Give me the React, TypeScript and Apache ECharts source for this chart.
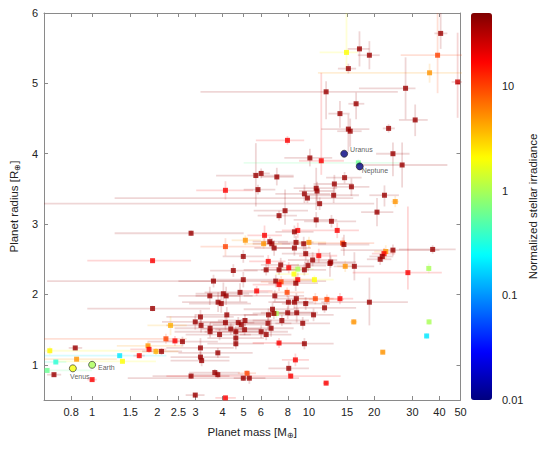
import React, { useEffect, useRef } from 'react';
import * as echarts from 'echarts';

// [mass, massLo, massHi, radius, radiusLo, radiusHi, normalized irradiance]
const exoplanets: number[][] = [
  [12.0, 3.16, 25.7, 4.88, 4.49, 5.03, 40],
  [7.96, 5.69, 9.51, 4.19, 4.13, 4.25, 18],
  [14.9, 11.2, 16.8, 5.44, 5.17, 6.3, 2],
  [36.0, 11.0, 60, 5.15, 5.01, 5.28, 5],
  [17.1, 15.1, 19.0, 5.49, 5.24, 5.74, 40],
  [19.0, 16.8, 21.2, 5.40, 5.20, 5.60, 40],
  [15.2, 13.6, 16.5, 5.21, 5.14, 5.28, 40],
  [40.5, 37.9, 43.5, 5.71, 5.49, 6.0, 40],
  [39.2, 26.5, 55, 5.40, 4.86, 6.0, 10],
  [48.5, 45.5, 51, 5.02, 4.51, 5.72, 28],
  [27.9, 17.0, 31.0, 4.93, 4.49, 5.37, 40],
  [16.5, 15.2, 18.0, 4.71, 4.49, 4.87, 40],
  [13.9, 12.3, 15.4, 4.57, 4.37, 4.75, 40],
  [15.2, 11.4, 19.0, 4.35, 4.03, 4.56, 40],
  [15.5, 13.5, 17.5, 4.32, 4.10, 4.50, 40],
  [23.3, 21.9, 24.9, 4.36, 4.30, 4.42, 40],
  [30.9, 26.0, 35.3, 4.48, 4.25, 4.70, 40],
  [4.12, 3.02, 5.53, 3.48, 3.35, 3.61, 18],
  [5.69, 3.73, 8.5, 3.69, 3.25, 4.15, 40],
  [6.02, 5.5, 6.6, 3.72, 3.65, 3.79, 40],
  [5.82, 5.0, 7.0, 3.49, 3.42, 3.56, 40],
  [10.1, 7.7, 12.8, 3.94, 3.82, 4.07, 40],
  [11.4, 9.0, 14.5, 3.90, 3.70, 5.15, 18],
  [16.9, 5.0, 26.0, 3.87, 3.82, 3.92, 0.6],
  [7.11, 6.0, 8.5, 3.67, 3.55, 3.80, 40],
  [10.8, 8.5, 13.5, 3.51, 3.2, 3.8, 40],
  [10.9, 9.0, 13.0, 3.47, 3.3, 3.6, 40],
  [9.53, 7.0, 12.5, 3.43, 3.3, 3.56, 40],
  [9.84, 1.27, 16, 3.37, 3.30, 3.44, 40],
  [11.2, 0.5, 20, 3.29, 3.2, 3.38, 40],
  [7.76, 5.56, 9.9, 3.19, 2.99, 3.49, 40],
  [7.28, 5.8, 8.8, 3.12, 3.05, 3.19, 40],
  [10.8, 8.5, 13.5, 3.06, 2.95, 3.17, 40],
  [2.86, 1.27, 5.0, 2.87, 2.83, 2.91, 40],
  [8.88, 7.5, 10.5, 2.91, 2.80, 3.02, 18],
  [8.57, 7.0, 10.5, 2.89, 2.80, 2.98, 40],
  [6.24, 5.2, 7.5, 2.84, 2.70, 2.98, 18],
  [5.09, 4.4, 6.0, 2.77, 2.70, 2.84, 5],
  [4.12, 3.16, 6.0, 2.68, 2.55, 2.80, 10],
  [6.18, 5.0, 7.5, 2.72, 2.65, 2.80, 5],
  [6.6, 5.5, 8.0, 2.75, 2.68, 2.82, 40],
  [6.74, 5.5, 8.2, 2.72, 2.65, 2.80, 40],
  [6.91, 5.6, 8.5, 2.66, 2.55, 2.77, 40],
  [8.72, 7.2, 10.5, 2.74, 2.65, 2.83, 40],
  [9.46, 7.5, 12.0, 2.72, 2.62, 2.82, 40],
  [10.0, 8.5, 12.0, 2.74, 2.66, 2.82, 5],
  [8.57, 7.0, 10.2, 2.66, 2.55, 2.77, 40],
  [9.66, 7.5, 12.5, 2.58, 2.48, 2.68, 40],
  [4.98, 4.0, 6.2, 2.54, 2.45, 2.63, 40],
  [10.4, 8.0, 13.5, 2.49, 2.40, 2.60, 40],
  [11.1, 9.0, 13.5, 2.55, 2.45, 2.65, 18],
  [6.49, 5.3, 7.8, 2.47, 2.38, 2.56, 18],
  [7.41, 6.0, 9.0, 2.42, 2.32, 2.52, 40],
  [8.07, 6.5, 9.8, 2.38, 2.30, 2.46, 18],
  [8.88, 7.5, 10.5, 2.36, 2.28, 2.44, 1],
  [9.53, 7.5, 12.0, 2.35, 2.27, 2.43, 40],
  [9.9, 8.0, 12.0, 2.41, 2.33, 2.49, 40],
  [7.28, 6.0, 8.8, 2.35, 2.28, 2.42, 40],
  [6.35, 5.0, 8.0, 2.35, 2.27, 2.43, 40],
  [4.48, 3.5, 5.8, 2.34, 2.25, 2.43, 40],
  [24.4, 20.4, 29.1, 4.00, 3.68, 4.16, 40],
  [26.9, 17.4, 43.5, 3.84, 3.52, 4.16, 40],
  [14.6, 12.0, 17.5, 3.66, 3.58, 3.74, 40],
  [13.1, 10.5, 16.0, 3.57, 3.45, 3.70, 40],
  [15.7, 13.0, 19.0, 3.53, 3.40, 3.65, 40],
  [13.0, 10.0, 17.0, 3.41, 3.30, 3.52, 40],
  [22.3, 19.0, 26.0, 3.41, 3.25, 3.55, 40],
  [25.0, 24.0, 26.0, 3.32, 3.24, 3.40, 5],
  [20.6, 17.4, 24.5, 3.17, 2.97, 3.37, 40],
  [12.7, 9.5, 16.5, 3.04, 2.95, 3.13, 40],
  [13.5, 10.5, 17.0, 2.91, 2.80, 3.02, 18],
  [14.3, 11.0, 20.0, 2.73, 2.65, 2.81, 10],
  [14.5, 11.0, 19.0, 2.71, 2.55, 2.85, 40],
  [22.6, 20.0, 25.0, 2.61, 2.50, 2.70, 5],
  [22.2, 19.5, 25.0, 2.58, 2.50, 2.66, 18],
  [21.8, 19.0, 24.5, 2.54, 2.46, 2.62, 40],
  [21.3, 18.5, 24.0, 2.50, 2.42, 2.58, 40],
  [24.4, 14.0, 40.0, 2.63, 2.55, 2.71, 40],
  [37.2, 26.0, 47.5, 2.64, 2.58, 2.70, 40],
  [35.7, 35.0, 36.5, 2.37, 2.30, 2.44, 1],
  [12.6, 9.5, 16.5, 2.46, 2.38, 2.54, 40],
  [12.5, 9.5, 16.0, 2.44, 2.25, 2.60, 40],
  [14.7, 13.5, 16.0, 2.40, 2.32, 2.48, 5],
  [16.2, 13.0, 20.0, 2.40, 2.20, 2.60, 40],
  [28.6, 15.9, 41.0, 2.31, 2.07, 3.25, 18],
  [3.63, 2.5, 5.0, 2.19, 2.10, 2.28, 40],
  [4.98, 3.5, 7.0, 2.21, 2.10, 2.32, 40],
  [7.03, 0.62, 12.0, 2.19, 2.10, 2.28, 40],
  [7.44, 6.0, 9.0, 2.18, 2.10, 2.26, 10],
  [7.28, 5.5, 9.0, 2.14, 2.05, 2.23, 18],
  [8.88, 7.5, 10.5, 2.21, 2.12, 2.30, 18],
  [8.69, 6.5, 11.0, 2.16, 2.05, 2.27, 40],
  [8.53, 7.0, 10.0, 2.29, 2.20, 2.38, 2],
  [10.6, 8.5, 13.0, 2.21, 2.15, 2.27, 2],
  [5.74, 4.8, 6.8, 2.05, 1.98, 2.12, 18],
  [4.81, 3.3, 6.5, 2.03, 1.90, 2.16, 40],
  [3.49, 2.5, 4.8, 1.98, 1.85, 2.11, 40],
  [4.03, 3.0, 5.3, 2.01, 1.85, 2.17, 40],
  [4.15, 3.0, 5.5, 1.98, 1.85, 2.11, 40],
  [6.96, 5.0, 9.5, 1.98, 1.90, 2.06, 40],
  [7.93, 6.5, 9.5, 2.03, 1.96, 2.10, 10],
  [10.7, 8.5, 13.0, 1.94, 1.86, 2.02, 10],
  [8.04, 6.5, 10.0, 1.89, 1.80, 1.98, 40],
  [8.57, 6.8, 10.5, 1.89, 1.80, 1.98, 40],
  [8.75, 7.0, 11.0, 1.94, 1.86, 2.02, 40],
  [9.66, 7.5, 12.5, 1.87, 1.78, 1.96, 40],
  [3.81, 2.6, 5.2, 1.89, 1.75, 2.03, 40],
  [3.94, 2.8, 5.4, 1.87, 1.74, 2.00, 40],
  [6.79, 5.0, 9.0, 1.79, 1.70, 1.88, 40],
  [7.98, 6.0, 10.5, 1.74, 1.65, 1.83, 40],
  [8.78, 7.0, 11.0, 1.74, 1.60, 1.88, 40],
  [6.51, 5.0, 8.5, 1.71, 1.62, 1.80, 40],
  [7.07, 6.5, 7.6, 1.73, 1.66, 1.80, 1],
  [6.89, 5.5, 8.5, 1.73, 1.65, 1.81, 40],
  [4.18, 3.0, 5.8, 1.71, 1.60, 1.82, 40],
  [7.50, 5.5, 10.0, 1.63, 1.55, 1.71, 40],
  [9.36, 7.0, 12.5, 1.59, 1.50, 1.68, 40],
  [3.16, 2.2, 4.5, 1.68, 1.58, 1.78, 40],
  [2.99, 2.1, 4.2, 1.61, 1.50, 1.72, 40],
  [3.18, 2.2, 4.5, 1.56, 1.46, 1.66, 40],
  [4.12, 3.0, 5.6, 1.60, 1.50, 1.70, 40],
  [4.72, 3.5, 6.3, 1.60, 1.52, 1.68, 40],
  [4.88, 3.6, 6.5, 1.57, 1.49, 1.65, 40],
  [5.07, 3.8, 6.7, 1.63, 1.55, 1.71, 40],
  [6.47, 5.0, 8.3, 1.59, 1.50, 1.68, 40],
  [6.69, 5.2, 8.5, 1.52, 1.40, 1.64, 40],
  [3.50, 2.4, 5.0, 1.52, 1.44, 1.60, 40],
  [3.50, 2.4, 5.0, 1.47, 1.39, 1.55, 40],
  [3.87, 2.7, 5.4, 1.43, 1.35, 1.51, 40],
  [4.36, 3.2, 6.0, 1.51, 1.43, 1.59, 40],
  [4.60, 3.3, 6.3, 1.47, 1.39, 1.55, 40],
  [5.05, 3.7, 6.8, 1.50, 1.42, 1.58, 40],
  [4.60, 3.4, 6.2, 1.38, 1.25, 1.51, 40],
  [4.60, 3.4, 6.2, 1.30, 1.22, 1.38, 40],
  [6.02, 4.5, 8.0, 1.47, 1.38, 1.56, 40],
  [6.35, 4.8, 8.3, 1.43, 1.35, 1.51, 40],
  [2.61, 1.8, 3.8, 1.33, 1.26, 1.40, 40],
  [7.28, 5.5, 9.5, 1.31, 1.24, 1.38, 18],
  [9.53, 7.0, 13.0, 1.30, 1.22, 1.38, 40],
  [3.16, 2.2, 4.5, 1.24, 1.10, 1.38, 40],
  [3.80, 2.5, 5.5, 1.17, 1.10, 1.24, 40],
  [3.16, 2.3, 4.3, 1.11, 1.03, 1.19, 40],
  [3.20, 2.3, 4.3, 1.06, 0.98, 1.14, 40],
  [8.66, 7.5, 10.0, 1.07, 0.98, 1.16, 18],
  [8.07, 6.5, 10.0, 0.95, 0.85, 1.05, 40],
  [8.24, 2.2, 14.0, 0.84, 0.80, 0.88, 18],
  [3.68, 2.8, 4.8, 0.89, 0.84, 0.94, 40],
  [3.80, 2.9, 5.0, 0.86, 0.81, 0.91, 40],
  [2.86, 1.9, 4.3, 0.84, 0.80, 0.88, 40],
  [5.18, 4.7, 5.7, 0.88, 0.84, 0.92, 10],
  [4.98, 1.46, 9.0, 0.81, 0.77, 0.85, 40],
  [5.31, 4.5, 6.3, 0.81, 0.73, 0.89, 40],
  [2.99, 2.7, 3.3, 0.57, 0.54, 0.60, 40],
  [4.12, 3.7, 4.6, 0.53, 0.50, 0.56, 18],
  [12.1, 10.0, 14.5, 1.93, 1.86, 2.00, 10],
  [13.9, 12.0, 16.0, 1.94, 1.86, 2.02, 18],
  [19.0, 11.4, 28.6, 1.89, 1.56, 2.24, 40],
  [11.8, 8.5, 16.5, 1.81, 1.74, 1.88, 40],
  [16.1, 15.5, 16.7, 1.61, 1.57, 1.65, 5],
  [35.8, 35.2, 36.4, 1.61, 1.57, 1.65, 1],
  [34.9, 34.3, 35.5, 1.41, 1.37, 1.45, 0.2],
  [21.9, 21.3, 22.5, 1.18, 1.15, 1.21, 5],
  [12.0, 11.6, 12.4, 0.74, 0.71, 0.77, 18],
  [10.5, 8.0, 13.0, 1.71, 1.62, 1.80, 40],
  [1.90, 0.95, 3.5, 1.80, 1.76, 1.84, 40],
  [1.90, 0.95, 2.86, 2.48, 2.45, 2.51, 18],
  [2.30, 1.8, 2.73, 1.56, 1.42, 1.69, 4],
  [2.19, 0.55, 2.73, 1.37, 1.30, 1.44, 10],
  [2.41, 2.2, 2.65, 1.34, 1.27, 1.41, 18],
  [1.81, 1.3, 2.6, 1.27, 1.22, 1.32, 5],
  [1.83, 1.5, 2.2, 1.22, 1.17, 1.27, 18],
  [1.97, 1.5, 2.5, 1.19, 1.14, 1.24, 4],
  [2.09, 1.7, 2.6, 1.19, 1.14, 1.24, 40],
  [1.34, 0.55, 2.2, 1.13, 1.10, 1.16, 0.2],
  [1.65, 1.55, 1.75, 1.13, 1.09, 1.17, 18],
  [1.38, 0.69, 1.97, 1.05, 1.02, 1.08, 2],
  [0.638, 0.55, 1.5, 1.20, 1.14, 1.26, 2.2],
  [0.836, 0.78, 0.9, 1.24, 1.21, 1.27, 40],
  [0.848, 0.6, 1.3, 1.08, 1.05, 1.11, 5],
  [0.68, 0.6, 0.76, 1.04, 1.01, 1.07, 0.35],
  [0.62, 0.55, 1.0, 0.92, 0.89, 0.95, 0.6],
  [0.667, 0.62, 0.72, 0.86, 0.83, 0.89, 40],
  [1.0, 0.95, 1.05, 0.79, 0.77, 0.81, 18],
];

// [name, mass, radius, irradiance]
const solarSystem: [string, number, number, number][] = [
  ['Venus', 0.815, 0.95, 1.91],
  ['Earth', 1.0, 1.0, 1.0],
  ['Uranus', 14.54, 4.0, 0.0027],
  ['Neptune', 17.15, 3.82, 0.0011],
];

const massTicks = [0.8, 1, 1.5, 2, 2.5, 3, 4, 5, 6, 8, 10, 15, 20, 30, 40, 50];
const radiusTicks = [1, 2, 3, 4, 5, 6];
const irradianceTicks = [0.01, 0.1, 1, 10];
const massRange = [0.6, 50];
const radiusRange = [0.5, 6];
const irradianceRange = [0.01, 50];
const jetColors = ['#00007f', '#0000ff', '#007fff', '#00ffff', '#7fff7f', '#ffff00', '#ff7f00', '#ff0000', '#7f0000'];

const FONT = '"Liberation Sans", Arial, Helvetica, sans-serif';
const AXIS_GREY = '#8a8a8a';

const clamp = (v: number, lo: number, hi: number) => Math.min(Math.max(v, lo), hi);
const lgMass = (m: number) => Math.log10(clamp(m, massRange[0] * 0.98, massRange[1] * 1.02));
const lgIrr = (v: number) => Math.log10(clamp(v, irradianceRange[0], irradianceRange[1]));

export default function App() {
  const ref = useRef<HTMLDivElement>(null);

  useEffect(() => {
    if (!ref.current) return;
    const chart = echarts.init(ref.current, undefined, { renderer: 'svg' });

    const xMin = Math.log10(massRange[0]);
    const xMax = Math.log10(massRange[1]);
    const xTickVals = massTicks.map((m) => Math.log10(m));

    const exoRows = exoplanets.map((p) => [
      lgMass(p[0]), p[3], lgMass(p[1]), lgMass(p[2]),
      clamp(p[4], radiusRange[0], radiusRange[1]), clamp(p[5], radiusRange[0], radiusRange[1]), lgIrr(p[6]),
    ]);

    const labelCfg: Record<string, any> = {
      Venus: { position: 'bottom', distance: 1, offset: [7, 0] },
      Earth: { position: 'right', distance: 2, offset: [0, 3] },
      Uranus: { position: 'right', distance: 2, offset: [0, -4] },
      Neptune: { position: 'right', distance: 1, offset: [-3, 4] },
    };

    const solarRows = solarSystem.map(([name, m, r, irr]) => ({
      name,
      value: [Math.log10(m), r, Math.log10(m), Math.log10(m), r, r, lgIrr(irr)],
      label: { show: true, formatter: name, fontSize: 7, color: '#333', fontFamily: FONT, ...labelCfg[name] },
    }));

    const massLabel = (v: number) => {
      let best = massTicks[0];
      for (const t of massTicks) if (Math.abs(Math.log10(t) - v) < Math.abs(Math.log10(best) - v)) best = t;
      return String(best);
    };

    const axisLineStyle = { onZero: false, lineStyle: { color: AXIS_GREY, width: 1 } };
    const tickStyle = { inside: true, length: 4, lineStyle: { color: AXIS_GREY } };

    const option: any = {
      animation: false,
      backgroundColor: '#ffffff',
      textStyle: { fontFamily: FONT },
      grid: [
        { left: 41, top: 13, width: 419.5, height: 387 },
        { left: 471, top: 13, width: 21, height: 387 },
      ],
      xAxis: [
        {
          type: 'value', gridIndex: 0, min: xMin, max: xMax, position: 'bottom',
          name: 'Planet mass [M{s|⊕}]', nameLocation: 'middle', nameGap: 25,
          nameTextStyle: { fontSize: 11.5, color: '#222', fontFamily: FONT, rich: { s: { fontSize: 8, color: '#222', padding: [6, 0, 0, 0] } } },
          axisLine: axisLineStyle,
          axisTick: { ...tickStyle, customValues: xTickVals },
          axisLabel: { customValues: xTickVals, formatter: massLabel, fontSize: 11, color: '#222', margin: 6 },
          splitLine: { show: false },
        },
        {
          type: 'value', gridIndex: 0, min: xMin, max: xMax, position: 'top',
          axisLine: axisLineStyle,
          axisTick: { ...tickStyle, customValues: xTickVals },
          axisLabel: { show: false },
          splitLine: { show: false },
        },
        { type: 'value', gridIndex: 1, min: 0, max: 1, show: false },
      ],
      yAxis: [
        {
          type: 'value', gridIndex: 0, min: radiusRange[0], max: radiusRange[1], position: 'left',
          name: 'Planet radius [R{s|⊕}]', nameLocation: 'middle', nameGap: 22, nameRotate: 90,
          nameTextStyle: { fontSize: 11.5, color: '#222', fontFamily: FONT, rich: { s: { fontSize: 8, color: '#222', padding: [6, 0, 0, 0] } } },
          axisLine: axisLineStyle,
          axisTick: { ...tickStyle, customValues: radiusTicks },
          axisLabel: { customValues: radiusTicks, fontSize: 11, color: '#222', margin: 6 },
          splitLine: { show: false },
        },
        {
          type: 'value', gridIndex: 0, min: radiusRange[0], max: radiusRange[1], position: 'right',
          axisLine: axisLineStyle,
          axisTick: { ...tickStyle, customValues: radiusTicks },
          axisLabel: { show: false },
          splitLine: { show: false },
        },
        {
          type: 'log', logBase: 10, gridIndex: 1, min: irradianceRange[0], max: irradianceRange[1], position: 'right',
          name: 'Normalized stellar irradiance', nameLocation: 'middle', nameGap: 34, nameRotate: 90,
          nameTextStyle: { fontSize: 11.5, color: '#222', fontFamily: FONT },
          axisLine: { show: false },
          axisTick: { show: false },
          axisLabel: {
            fontSize: 11, color: '#222', margin: 10,
            formatter: (v: number) => {
              const hit = irradianceTicks.find((t) => Math.abs(Math.log10(t) - Math.log10(v)) < 1e-6);
              return hit === undefined ? '' : String(hit);
            },
          },
          splitLine: { show: false },
        },
      ],
      visualMap: {
        type: 'continuous',
        min: Math.log10(irradianceRange[0]),
        max: Math.log10(irradianceRange[1]),
        dimension: 6,
        seriesIndex: [0, 1, 2],
        inRange: { color: jetColors },
        left: 471, top: 13,
        itemWidth: 21, itemHeight: 387,
        calculable: false,
        padding: 0,
        showLabel: false,
        text: undefined,
        hoverLink: false,
      },
      series: [
        {
          type: 'custom',
          xAxisIndex: 0, yAxisIndex: 0,
          clip: true,
          z: 1,
          data: exoRows,
          encode: { x: [0, 2, 3], y: [1, 4, 5] },
          renderItem: (_params: any, api: any) => {
            const x = api.value(0), y = api.value(1);
            const p = api.coord([x, y]);
            const pl = api.coord([api.value(2), y]);
            const ph = api.coord([api.value(3), y]);
            const pd = api.coord([x, api.value(4)]);
            const pu = api.coord([x, api.value(5)]);
            const color = api.visual('color');
            const st = { stroke: color, lineWidth: 1.8, opacity: 0.16 };
            return {
              type: 'group',
              children: [
                { type: 'line', shape: { x1: pl[0], y1: p[1], x2: ph[0], y2: p[1] }, style: st },
                { type: 'line', shape: { x1: p[0], y1: pd[1], x2: p[0], y2: pu[1] }, style: st },
              ],
            };
          },
        },
        {
          type: 'scatter',
          xAxisIndex: 0, yAxisIndex: 0,
          z: 2,
          symbol: 'rect',
          symbolSize: 5,
          data: exoRows,
          encode: { x: 0, y: 1 },
        },
        {
          type: 'scatter',
          xAxisIndex: 0, yAxisIndex: 0,
          z: 3,
          symbol: 'circle',
          symbolSize: 7,
          itemStyle: { borderColor: '#222', borderWidth: 0.8 },
          data: solarRows,
          encode: { x: 0, y: 1 },
        },
      ],
    };

    chart.setOption(option);
    return () => chart.dispose();
  }, []);

  return (
    <div
      ref={ref}
      style={{ position: 'absolute', left: 0, top: 0, width: 548, height: 457, background: '#fff' }}
    />
  );
}
